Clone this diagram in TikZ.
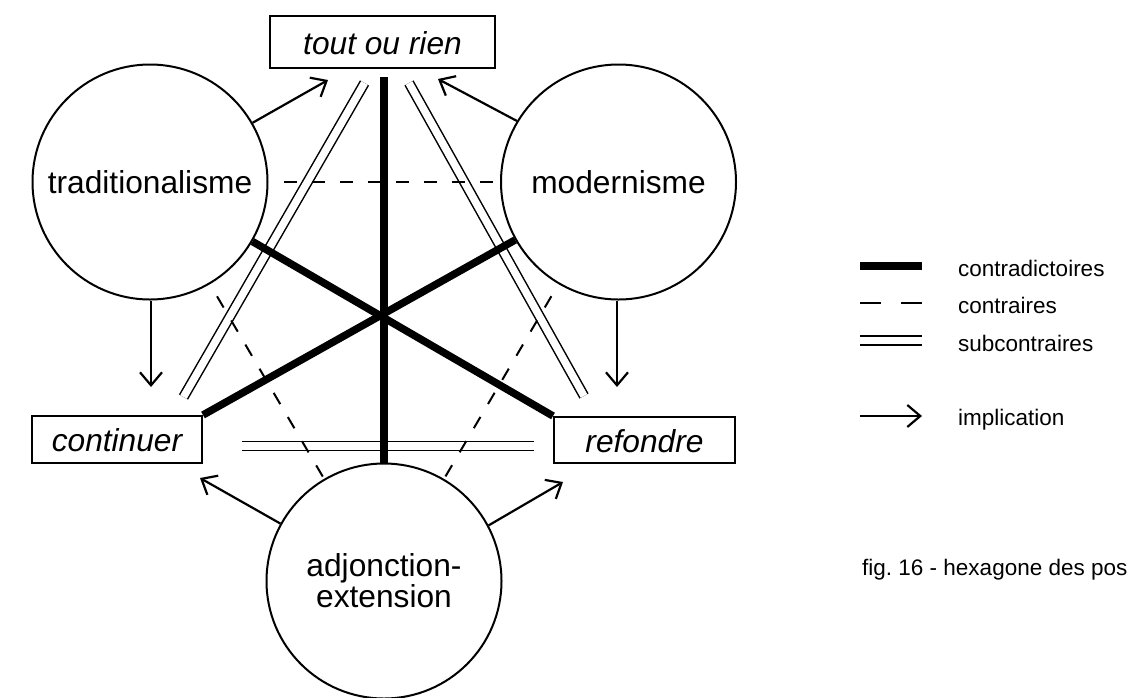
\documentclass[tikz,border=0pt]{standalone}
\usepackage{fontspec}
\setmainfont{Liberation Sans}
\usetikzlibrary{arrows.meta}
\frenchspacing
\begin{document}
\begin{tikzpicture}[x=1pt,y=-1pt,
  big/.style={font=\fontsize{31.7}{31}\selectfont},
  small/.style={font=\fontsize{22.5}{27}\selectfont},
  circ/.style={circle,draw,line width=2pt,fill=white,minimum size=235pt,inner sep=0pt,big,align=center},
  boxn/.style={rectangle,draw,line width=2pt,fill=white,inner sep=0pt,big,text height=24pt,text depth=0pt,font=\fontsize{31.7}{31}\selectfont\itshape},
  contra/.style={line width=7.5pt},
  contr/.style={line width=2pt,dash pattern=on 13pt off 15pt},
  subc/.style={double,double distance=7.5pt,line width=1.5pt},
  imp/.style={line width=2.2pt,-{Straight Barb[length=13pt,width=22pt]}},
  leg/.style={small,anchor=base west,inner sep=0pt}
]
\useasboundingbox (0,0) rectangle (1128,697);
\fill[white] (0,0) rectangle (1128,697);

% nodes
\node[boxn,minimum width=225pt,minimum height=52pt] (tout) at (382.5,42) {tout ou rien};
\node[boxn,minimum width=170pt,minimum height=47pt] (cont) at (117,439.5) {continuer};
\node[boxn,minimum width=181pt,minimum height=46pt] (ref) at (644.5,440) {refondre};
\node[circ] (trad) at (150,182) {traditionalisme};
\node[circ] (mod) at (618.5,182) {modernisme};
\node[circ] (adj) at (384,581) {adjonction-\\extension};

% coordinates
\coordinate (s1a) at (183.5,397);
\coordinate (s1b) at (364.5,83);
\coordinate (s2a) at (409,83);
\coordinate (s2b) at (584,396);
\coordinate (s3a) at (242,446);
\coordinate (s3b) at (534,446);
\coordinate (ctop) at (384,77);
\coordinate (t1) at (328,80);
\coordinate (t2) at (438,79);
\coordinate (t3) at (151,387);
\coordinate (t4) at (617,387);
\coordinate (t5) at (200,478);
\coordinate (t6) at (563,482);

% subcontraires
\draw[subc] (s1a) -- (s1b);
\draw[subc] (s2a) -- (s2b);
\draw[subc] (s3a) -- (s3b);

% contraires
\draw[contr,dash phase=13pt] (trad) -- (mod);
\draw[contr,dash phase=14pt] (trad) -- (adj);
\draw[contr,dash phase=14pt] (mod) -- (adj);

% contradictoires
\draw[contra] (ctop) -- (adj.north);
\draw[contra] (trad) -- (ref.north west);
\draw[contra] (mod) -- (cont.north east);

% implications
\draw[imp] (trad.30) -- (t1);
\draw[imp] (mod.149) -- (t2);
\draw[imp] (trad.south -| t3) -- (t3);
\draw[imp] (mod.south -| t4) -- (t4);
\draw[imp] (adj.151) -- (t5);
\draw[imp] (adj.28) -- (t6);

% legend
\coordinate (l1a) at (860,266); \coordinate (l1b) at (922,266);
\coordinate (l2a) at (860,303); \coordinate (l2b) at (922,303);
\coordinate (l3a) at (860,340.5); \coordinate (l3b) at (922,340.5);
\coordinate (l4a) at (860,416); \coordinate (l4b) at (922,416);
\draw[contra] (l1a) -- (l1b);
\draw[line width=2pt,dash pattern=on 21pt off 20pt] (l2a) -- (l2b);
\draw[subc] (l3a) -- (l3b);
\draw[imp] (l4a) -- (l4b);
\node[leg] (g1) at (958,276) {contradictoires};
\node[leg] (g2) at (958,313) {contraires};
\node[leg] (g3) at (958,351) {subcontraires};
\node[leg] (g4) at (958,425) {implication};
\node[leg] (fig) at (862,575) {fig. 16 - hexagone des pos};
\end{tikzpicture}
\end{document}
